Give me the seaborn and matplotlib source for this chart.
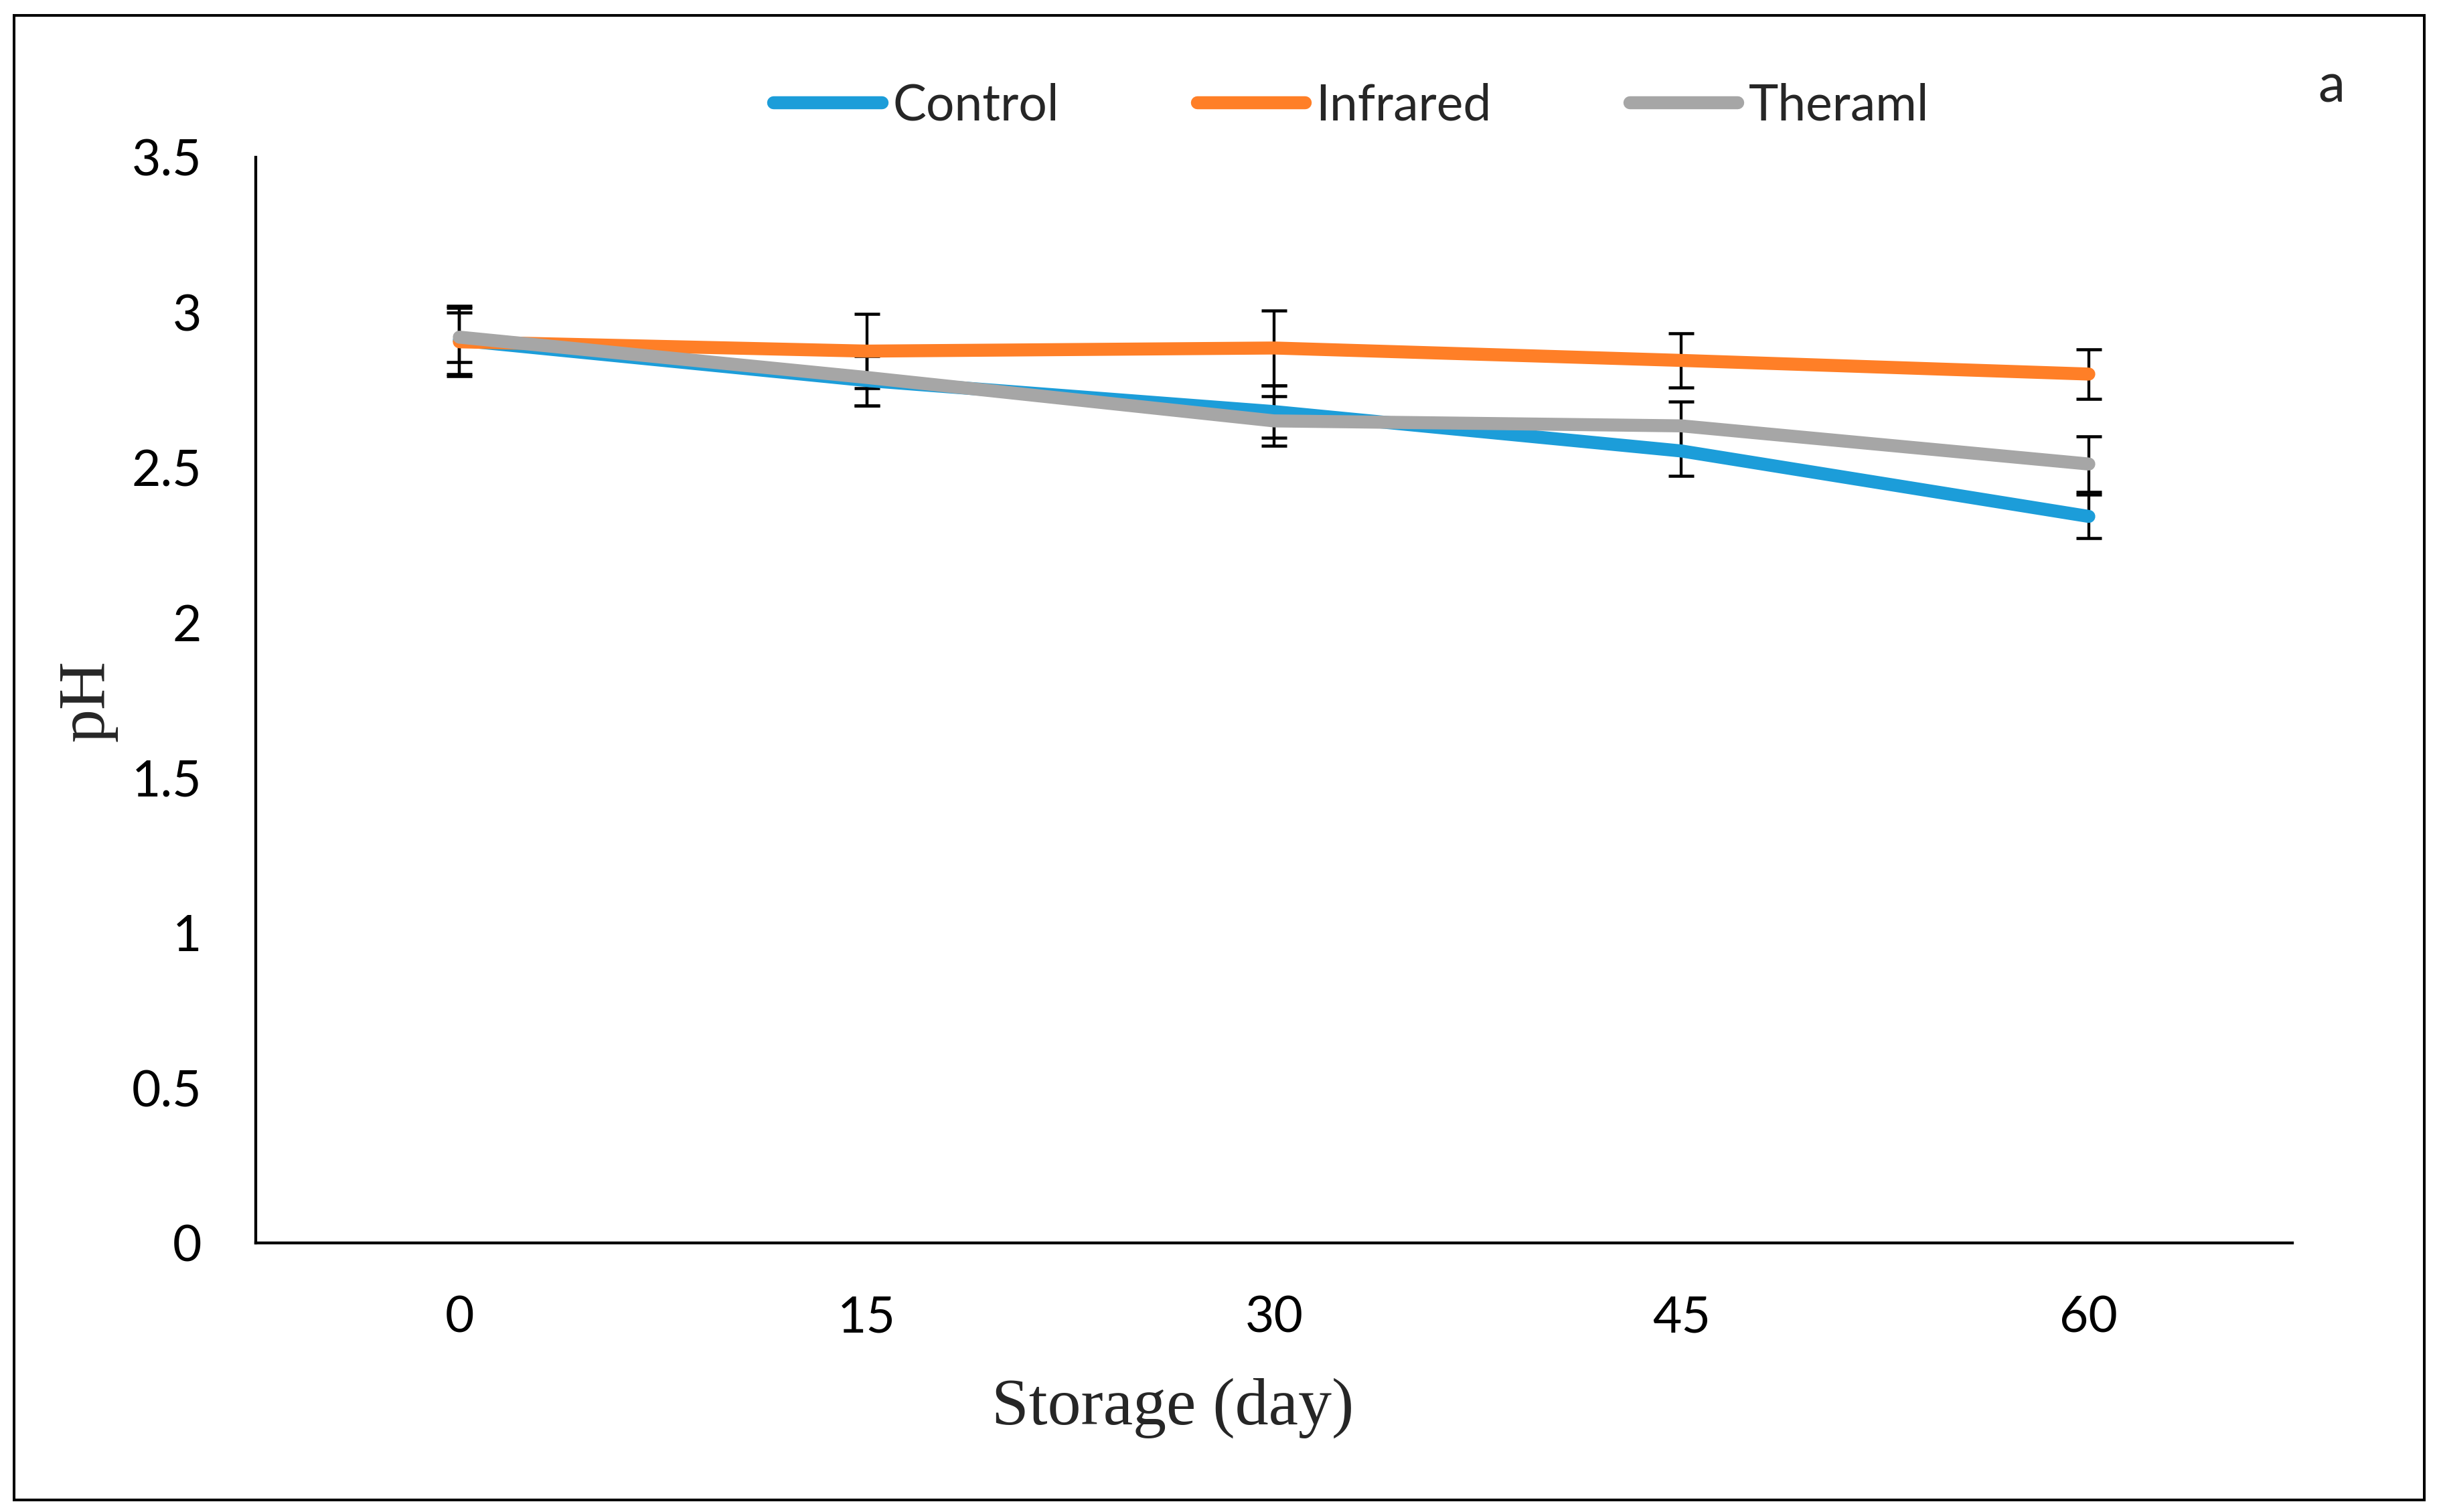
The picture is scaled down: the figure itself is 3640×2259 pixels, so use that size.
"""
pH of samples during storage (Control / Infrared / Theraml) with error bars.
Saves out.png at 3640x2259.
"""

import matplotlib.pyplot as plt
import matplotlib.ticker as mticker
import pandas as pd
import seaborn as sns
from matplotlib.patches import Rectangle


# -------------------------------------------------------------------
# Data
# -------------------------------------------------------------------

days = [0, 15, 30, 45, 60]
treatments = ["Control", "Infrared", "Theraml"]

control_ph = [2.91, 2.78, 2.68, 2.553, 2.342]
infrared_ph = [2.905, 2.875, 2.885, 2.845, 2.801]
thermal_ph = [2.92, 2.79, 2.65, 2.634, 2.511]

control_err = [0.11, 0.08, 0.085, 0.08, 0.07]
infrared_err = [0.11, 0.12, 0.12, 0.088, 0.08]
thermal_err = [0.08, 0.09, 0.08, 0.078, 0.09]

y_ticks = [0, 0.5, 1, 1.5, 2, 2.5, 3, 3.5]

colors = ["#1C9DD9", "#FF7F27", "#A6A6A6"]


# -------------------------------------------------------------------
# Build long table for seaborn
# -------------------------------------------------------------------

def build_frame() -> pd.DataFrame:
    rows = []
    for name, values in zip(treatments, [control_ph, infrared_ph, thermal_ph]):
        for d, v in zip(days, values):
            rows.append({"day": d, "treatment": name, "pH": v})
    return pd.DataFrame(rows)


def main() -> None:
    sns.set_theme(style="white")
    plt.rcParams["font.family"] = ["Lato", "DejaVu Sans"]

    df = build_frame()

    fig = plt.figure(figsize=(18.2, 11.295), dpi=200)
    ax = fig.add_axes([0.1049, 0.178, 0.8358, 0.718])

    sns.lineplot(
        data=df,
        x="day",
        y="pH",
        hue="treatment",
        hue_order=treatments,
        palette=colors,
        linewidth=7,
        solid_capstyle="round",
        sort=False,
        errorbar=None,
        legend=False,
        ax=ax,
        zorder=3,
    )
    handles = list(ax.get_lines()[:3])

    # error bars sit underneath the coloured lines
    for values, errs in zip(
        [control_ph, infrared_ph, thermal_ph],
        [control_err, infrared_err, thermal_err],
    ):
        ax.errorbar(
            days,
            values,
            yerr=errs,
            fmt="none",
            ecolor="black",
            elinewidth=1.55,
            capsize=7,
            capthick=1.65,
            zorder=2,
        )

    ax.set_xlim(-7.5, 67.5)
    ax.set_ylim(0, 3.5)
    ax.set_xticks(days)
    ax.set_xticklabels([str(d) for d in days])
    ax.set_yticks(y_ticks)
    ax.yaxis.set_major_formatter(mticker.FuncFormatter(lambda v, p: f"{v:g}"))
    ax.tick_params(axis="x", length=0, pad=28, labelsize=27, colors="black")
    ax.tick_params(axis="y", length=0, pad=29, labelsize=27, colors="black")
    ax.set_xlabel("")
    ax.set_ylabel("")

    for side in ["top", "right"]:
        ax.spines[side].set_visible(False)
    for side in ["left", "bottom"]:
        ax.spines[side].set_color("black")
        ax.spines[side].set_linewidth(1.55)

    # axis titles in Times-like serif
    fig.text(
        0.4813, 0.058, "Storage (day)",
        family=["Liberation Serif", "DejaVu Serif"], fontsize=36,
        ha="center", va="baseline",
    )
    fig.text(
        0.0357, 0.5365, "pH",
        family=["Liberation Serif", "DejaVu Serif"], fontsize=36,
        rotation=90, ha="center", va="center",
    )
    fig.text(0.9566, 0.9323, "a", fontsize=29, ha="center", va="baseline")

    fig.legend(
        handles,
        treatments,
        loc="center",
        bbox_to_anchor=(0.5545, 0.930),
        ncol=3,
        frameon=False,
        fontsize=27,
        handlelength=2.15,
        handletextpad=0.22,
        columnspacing=2.75,
        borderpad=0,
        borderaxespad=0,
    )

    # outer frame round the whole chart
    fig.patches.append(
        Rectangle(
            (0.00577, 0.00797), 0.98901, 0.98185,
            transform=fig.transFigure, fill=False,
            edgecolor="black", linewidth=1.45,
        )
    )

    fig.savefig("out.png", dpi=200)
    plt.close(fig)


if __name__ == "__main__":
    main()
